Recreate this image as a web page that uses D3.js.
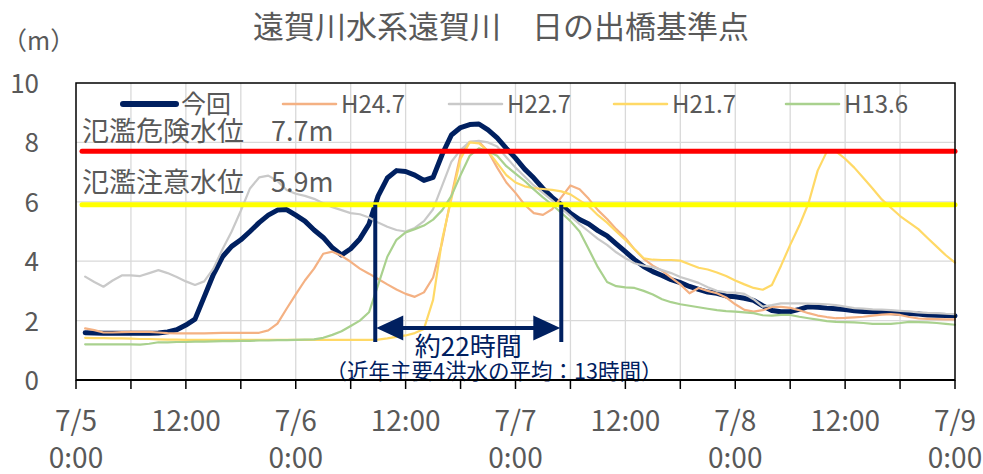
<!DOCTYPE html>
<html lang="ja">
<head>
<meta charset="utf-8">
<script src="https://cdn.jsdelivr.net/npm/d3@7/dist/d3.min.js"></script>
<style>
  html, body { margin: 0; padding: 0; background: #ffffff; }
  svg { display: block; }
  text { font-family: "Noto Sans CJK JP", "Noto Sans", sans-serif; }
</style>
</head>
<body>
<svg id="chart" width="983" height="474"></svg>
<script>
// 遠賀川 日の出橋基準点 水位 (m), hourly from 7/5 1:00 to 7/9 0:00
const hours = d3.range(1, 97);

const konkai = [1.59,1.58,1.57,1.57,1.57,1.57,1.57,1.57,1.58,1.62,
  1.69,1.85,2.05,2.8,3.55,4.15,4.5,4.72,5.0,5.3,
  5.55,5.72,5.74,5.55,5.35,5.05,4.8,4.45,4.21,4.42,
  4.75,5.25,6.2,6.8,7.05,7.02,6.9,6.72,6.82,7.6,
  8.25,8.5,8.6,8.62,8.42,8.15,7.8,7.47,7.1,6.8,
  6.45,6.15,5.9,5.61,5.4,5.25,5.03,4.85,4.58,4.32,
  4.05,3.82,3.65,3.52,3.38,3.28,3.15,3.05,2.96,2.92,
  2.83,2.8,2.75,2.68,2.5,2.34,2.3,2.3,2.38,2.47,
  2.45,2.42,2.4,2.37,2.33,2.31,2.3,2.29,2.27,2.25,
  2.24,2.22,2.19,2.18,2.17,2.16];

const h24_7 = [1.74,1.68,1.6,1.6,1.61,1.62,1.62,1.62,1.6,1.58,
  1.57,1.57,1.57,1.57,1.58,1.59,1.59,1.59,1.59,1.59,
  1.67,1.9,2.4,2.88,3.35,3.75,4.25,4.32,4.18,3.98,
  3.75,3.58,3.4,3.22,3.05,2.9,2.8,2.95,3.45,4.65,
  6.2,7.6,8.02,8.02,7.7,7.15,6.65,6.3,5.9,5.62,
  5.56,5.75,6.15,6.55,6.42,6.1,5.72,5.42,5.08,4.78,
  4.4,4.08,3.85,3.68,3.45,3.22,2.92,3.1,3.0,2.92,
  2.78,2.55,2.36,2.3,2.35,2.46,2.46,2.43,2.35,2.25,
  2.17,2.12,2.08,2.09,2.11,2.13,2.17,2.2,2.22,2.19,
  2.12,2.07,2.06,2.05,2.04,2.04];

const h22_7 = [3.48,3.3,3.14,3.35,3.52,3.52,3.5,3.6,3.7,3.6,
  3.47,3.32,3.2,3.32,3.75,4.4,5.0,5.7,6.45,6.82,
  6.88,6.7,6.4,6.27,6.2,6.1,5.95,5.82,5.72,5.62,
  5.58,5.47,5.3,5.16,5.05,5.0,5.12,5.35,5.75,6.55,
  7.35,7.75,8.02,8.05,8.0,7.86,7.5,7.15,6.85,6.55,
  6.3,6.05,5.78,5.52,5.25,5.0,4.75,4.55,4.3,4.1,
  3.93,3.85,3.8,3.7,3.6,3.47,3.37,3.27,3.12,3.0,
  2.95,2.94,2.9,2.72,2.47,2.52,2.58,2.58,2.58,2.57,
  2.56,2.55,2.52,2.47,2.42,2.4,2.38,2.37,2.35,2.33,
  2.31,2.28,2.26,2.25,2.23,2.22];

const h21_7 = [1.42,1.41,1.41,1.4,1.4,1.39,1.38,1.38,1.37,1.36,
  1.36,1.35,1.35,1.35,1.35,1.35,1.35,1.35,1.35,1.35,
  1.35,1.35,1.35,1.35,1.35,1.35,1.35,1.35,1.35,1.35,
  1.35,1.35,1.36,1.4,1.45,1.5,1.58,1.72,2.7,4.75,
  6.1,7.45,8.0,7.97,7.7,7.3,6.9,6.65,6.52,6.46,
  6.43,6.4,6.35,6.25,6.05,5.85,5.55,5.3,5.0,4.72,
  4.4,4.1,4.05,4.04,4.04,4.02,3.9,3.78,3.72,3.62,
  3.5,3.35,3.22,3.1,3.04,3.2,3.85,4.55,5.2,5.95,
  7.05,7.69,7.7,7.45,7.15,6.8,6.45,6.08,5.8,5.52,
  5.3,5.08,4.78,4.49,4.2,3.95];

const h13_6 = [1.2,1.2,1.2,1.2,1.2,1.2,1.19,1.22,1.27,1.27,
  1.28,1.28,1.29,1.29,1.3,1.31,1.31,1.32,1.32,1.33,
  1.33,1.34,1.34,1.35,1.36,1.37,1.42,1.52,1.64,1.82,
  2.0,2.28,3.2,4.15,4.72,4.97,5.08,5.2,5.4,5.72,
  6.2,6.9,7.55,7.8,7.7,7.55,7.2,6.95,6.7,6.42,
  6.15,5.9,5.63,5.35,5.0,4.4,3.8,3.3,3.16,3.12,
  3.1,3.0,2.88,2.72,2.62,2.55,2.5,2.45,2.4,2.35,
  2.32,2.3,2.28,2.25,2.18,2.17,2.19,2.19,2.13,2.08,
  2.03,1.98,1.96,1.95,1.94,1.92,1.89,1.89,1.89,1.92,
  1.96,1.95,1.94,1.92,1.89,1.86];

const seriesNames  = ["今回", "H24.7", "H22.7", "H21.7", "H13.6"];
const seriesValues = [konkai, h24_7, h22_7, h21_7, h13_6];
const seriesColors = ["#002060", "#F4B183", "#C9C9C9", "#FFD966", "#A9D18E"];
const seriesWidths = [5, 2.2, 2.2, 2.2, 2.2];

// 基準水位
const levelNames  = ["氾濫危険水位", "氾濫注意水位"];
const levelValues = [7.7, 5.9];
const levelColors = ["#FF0000", "#FFFF00"];

const yTicks = [0, 2, 4, 6, 8, 10];
const xTickHours = [0, 12, 24, 36, 48, 60, 72, 84, 96];
const xTickLabels = [["7/5", "0:00"], ["12:00"], ["7/6", "0:00"], ["12:00"],
  ["7/7", "0:00"], ["12:00"], ["7/8", "0:00"], ["12:00"], ["7/9", "0:00"]];

const title = "遠賀川水系遠賀川\u3000日の出橋基準点";
const durationLabel = "約22時間";
const averageLabel = "（近年主要4洪水の平均：13時間）";

const W = 983, H = 474;
const margin = { top: 83, right: 28, bottom: 94, left: 76 };
const textGray = "#595959";
const navy = "#002060";

const svg = d3.select("#chart");
const x = d3.scaleLinear().domain([0, 96]).range([margin.left, W - margin.right]);
const y = d3.scaleLinear().domain([0, 10]).range([H - margin.bottom, margin.top]);

// gridlines
const grid = svg.append("g");
grid.selectAll("line.v").data(d3.range(6, 96, 6)).join("line")
  .attr("x1", d => x(d)).attr("x2", d => x(d))
  .attr("y1", y(10)).attr("y2", y(0))
  .attr("stroke", "#D9D9D9").attr("stroke-width", 1.3);
grid.selectAll("line.h").data(yTicks.filter(d => d > 0 && d < 10)).join("line")
  .attr("x1", x(0)).attr("x2", x(96))
  .attr("y1", d => y(d)).attr("y2", d => y(d))
  .attr("stroke", "#D9D9D9").attr("stroke-width", 1.3);

// series lines
const line = d3.line().x((d, i) => x(hours[i])).y(d => y(d));
seriesValues.forEach((vals, k) => {
  svg.append("path").datum(vals)
    .attr("d", line)
    .attr("fill", "none")
    .attr("stroke", seriesColors[k])
    .attr("stroke-width", seriesWidths[k])
    .attr("stroke-linejoin", "round")
    .attr("stroke-linecap", "round");
});

// reference levels
levelValues.forEach((v, k) => {
  svg.append("line")
    .attr("x1", x(0) + 6).attr("x2", x(96))
    .attr("y1", y(v)).attr("y2", y(v))
    .attr("stroke", levelColors[k]).attr("stroke-width", 5)
    .attr("stroke-linecap", "round");
  svg.append("text")
    .attr("x", x(0) + 6).attr("y", y(v) - (k === 0 ? 10 : 13))
    .attr("fill", textGray).attr("font-size", 27)
    .text(levelNames[k] + "\u3000" + v.toFixed(1) + "m");
});

// plot frame
svg.append("rect")
  .attr("x", x(0)).attr("y", y(10))
  .attr("width", x(96) - x(0)).attr("height", y(0) - y(10))
  .attr("fill", "none").attr("stroke", "#000").attr("stroke-width", 1.5);

// legend
const legendX = [123, 283, 449, 614, 786];
const legendY = 104;
seriesNames.forEach((name, k) => {
  const g = svg.append("g");
  g.append("line")
    .attr("x1", legendX[k]).attr("x2", legendX[k] + 53)
    .attr("y1", legendY).attr("y2", legendY)
    .attr("stroke", seriesColors[k])
    .attr("stroke-width", k === 0 ? 6 : 2.5)
    .attr("stroke-linecap", "round");
  g.append("text")
    .attr("x", legendX[k] + 58).attr("y", legendY + 9)
    .attr("fill", textGray).attr("font-size", k === 0 ? 25 : 24)
    .text(name);
});

// duration annotation: where 今回 rises above and falls below 氾濫注意水位
function crossings(vals, level) {
  const out = [];
  for (let i = 1; i < vals.length; i++) {
    const a = vals[i - 1] - level, b = vals[i] - level;
    if ((a < 0 && b >= 0) || (a >= 0 && b < 0)) {
      out.push(hours[i - 1] + (level - vals[i - 1]) / (vals[i] - vals[i - 1]) * (hours[i] - hours[i - 1]));
    }
  }
  return out;
}
const cross = crossings(konkai, levelValues[1]);
const tStart = cross[0], tEnd = cross[cross.length - 1];
const ax1 = x(tStart), ax2 = x(tEnd);
const arrowY = y(1.75), barBottom = y(1.28);
const ann = svg.append("g");
[ax1, ax2].forEach(px => {
  ann.append("line")
    .attr("x1", px).attr("x2", px)
    .attr("y1", y(levelValues[1])).attr("y2", barBottom)
    .attr("stroke", navy).attr("stroke-width", 4);
});
ann.append("line")
  .attr("x1", ax1 + 10).attr("x2", ax2 - 10)
  .attr("y1", arrowY).attr("y2", arrowY)
  .attr("stroke", navy).attr("stroke-width", 4);
ann.append("path")
  .attr("d", `M${ax1 + 1},${arrowY} L${ax1 + 28},${arrowY - 12.5} L${ax1 + 28},${arrowY + 12.5} Z`)
  .attr("fill", navy);
ann.append("path")
  .attr("d", `M${ax2 - 1},${arrowY} L${ax2 - 28},${arrowY - 12.5} L${ax2 - 28},${arrowY + 12.5} Z`)
  .attr("fill", navy);
ann.append("text")
  .attr("x", (ax1 + ax2) / 2).attr("y", 356)
  .attr("text-anchor", "middle")
  .attr("fill", navy).attr("font-size", 26)
  .text(durationLabel);
ann.append("text")
  .attr("x", 494).attr("y", 379)
  .attr("text-anchor", "middle")
  .attr("fill", navy).attr("font-size", 21.5)
  .text(averageLabel);

// bottom axis line + ticks
svg.append("line")
  .attr("x1", x(0)).attr("x2", x(96))
  .attr("y1", y(0)).attr("y2", y(0))
  .attr("stroke", "#000").attr("stroke-width", 2);
svg.selectAll("line.tick").data(d3.range(0, 97, 6)).join("line")
  .attr("x1", d => x(d)).attr("x2", d => x(d))
  .attr("y1", y(0)).attr("y2", y(0) + 9)
  .attr("stroke", "#000").attr("stroke-width", 1.5);

// x tick labels
xTickHours.forEach((h, i) => {
  xTickLabels[i].forEach((s, j) => {
    svg.append("text")
      .attr("x", x(h)).attr("y", 431 + j * 37)
      .attr("text-anchor", "middle")
      .attr("fill", textGray).attr("font-size", 28)
      .text(s);
  });
});

// y tick labels
svg.selectAll("text.ytick").data(yTicks).join("text")
  .attr("x", 39).attr("y", d => y(d) + 10)
  .attr("text-anchor", "end")
  .attr("fill", textGray).attr("font-size", 26)
  .text(d => d);

// unit and title
svg.append("text")
  .attr("x", 2).attr("y", 50)
  .attr("fill", textGray).attr("font-size", 25)
  .text("（m）");
svg.append("text")
  .attr("x", 501).attr("y", 38)
  .attr("text-anchor", "middle")
  .attr("fill", textGray).attr("font-size", 31)
  .text(title);
</script>
</body>
</html>
